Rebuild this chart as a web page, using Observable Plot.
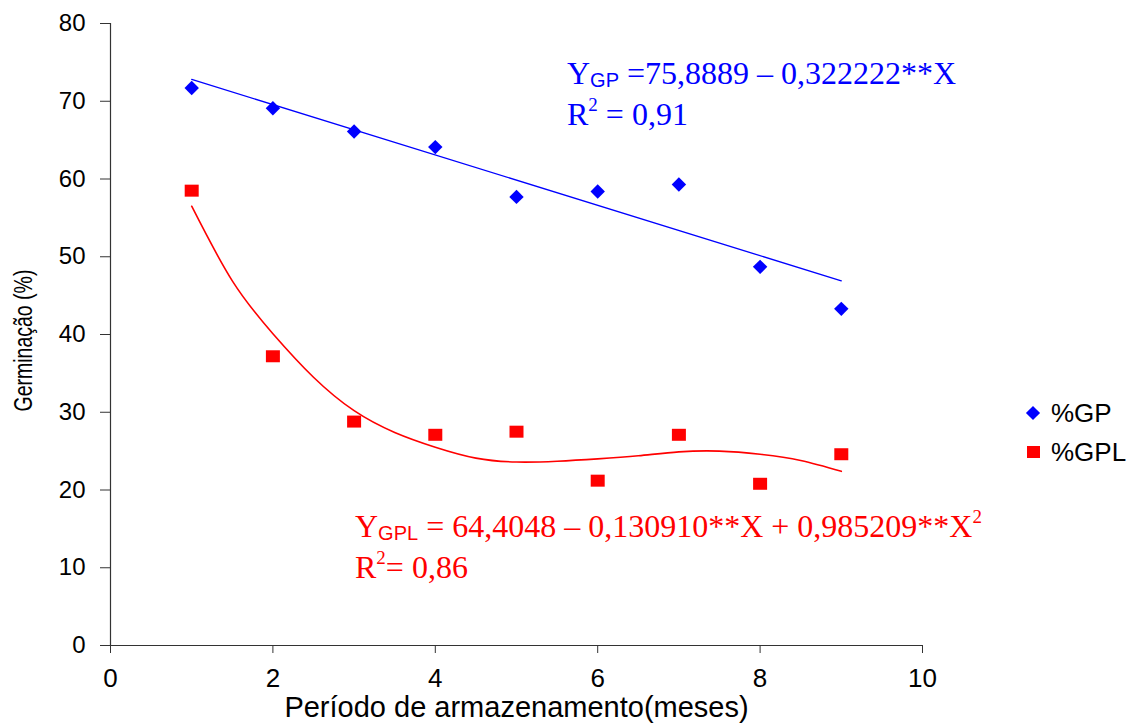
<!DOCTYPE html>
<html><head><meta charset="utf-8">
<script src="https://cdn.jsdelivr.net/npm/d3@7"></script>
<script src="https://cdn.jsdelivr.net/npm/@observablehq/plot@0.6"></script>
<style>
body{margin:0;background:#fff;}
#wrap{position:relative;width:1138px;height:728px;overflow:hidden;}
.eq{position:absolute;font-family:"Liberation Serif","Times New Roman",serif;font-size:32px;line-height:37px;white-space:nowrap;}
.eq .sub{font-family:"Liberation Sans",Arial,sans-serif;font-size:20px;position:relative;top:3px;}
.eq .sup{font-size:19px;position:relative;top:-14px;}
.leg{position:absolute;font-family:"Liberation Sans",Arial,sans-serif;font-size:26px;line-height:28px;white-space:nowrap;}
.sw{display:inline-block;position:absolute;}
</style></head><body><div id="wrap"></div>
<script>
// data
const months = [1, 2, 3, 4, 5, 6, 7, 8, 9];
const gp = [71.7, 69.1, 66.1, 64.1, 57.7, 58.4, 59.3, 48.7, 43.3];
const gpl = [58.5, 37.2, 28.8, 27.1, 27.5, 21.2, 27.1, 20.8, 24.6];
const gpTrendX = [1, 9];
const gpTrendY = [72.8, 46.9];
const gplTrendX = [1, 1.5, 2, 2.5, 3, 3.5, 4, 4.5, 5, 5.5, 6, 6.5, 7, 7.5, 8, 8.5, 9];
const gplTrendY = [56.5, 46.9, 40.1, 34.5, 30.2, 27.4, 25.5, 24.1, 23.6, 23.7, 24.0, 24.4, 24.9, 25.0, 24.6, 23.8, 22.4];
const xTicks = [0, 2, 4, 6, 8, 10];
const yTicks = [0, 10, 20, 30, 40, 50, 60, 70, 80];
const seriesNames = ["%GP", "%GPL"];
const seriesColors = ["#0000ff", "#ff0000"];
const xTitle = "Período de armazenamento(meses)";
const yTitle = "Germinação (%)";

const ptsGP = months.map((m, i) => ({x: m, y: gp[i]}));
const ptsGPL = months.map((m, i) => ({x: m, y: gpl[i]}));
const trGP = gpTrendX.map((x, i) => ({x, y: gpTrendY[i]}));
const trGPL = gplTrendX.map((x, i) => ({x, y: gplTrendY[i]}));

const rectSym = {draw(ctx) { ctx.rect(-7, -6, 14, 12); }};
const sans = "'Liberation Sans',Arial,sans-serif";

const chart = Plot.plot({
  width: 1138, height: 728,
  marginLeft: 110, marginRight: 216, marginTop: 23, marginBottom: 83,
  style: {fontFamily: sans, fontSize: "22px", background: "transparent", color: "#000"},
  x: {domain: [0, 10]},
  y: {domain: [0, 80]},
  marks: [
    Plot.ruleX([0], {stroke: "#333", strokeWidth: 1.2}),
    Plot.ruleY([0], {stroke: "#333", strokeWidth: 1.2}),
    Plot.axisY({ticks: yTicks, tickSize: 10, tickPadding: 15, fontSize: 24, label: null, stroke: "#333"}),
    Plot.axisX({ticks: xTicks, tickSize: 8, tickPadding: 15, fontSize: 26, label: null, stroke: "#333"}),
    Plot.line(trGP, {x: "x", y: "y", stroke: seriesColors[0], strokeWidth: 1.3}),
    Plot.line(trGPL, {x: "x", y: "y", stroke: seriesColors[1], strokeWidth: 1.6, curve: "natural"}),
    Plot.dot(ptsGP, {x: "x", y: "y", symbol: "diamond2", r: 6.5, fill: seriesColors[0], stroke: "none"}),
    Plot.dot(ptsGPL, {x: "x", y: "y", symbol: rectSym, fill: seriesColors[1], stroke: "none"}),
    Plot.text([yTitle], {frameAnchor: "left", textAnchor: "middle", dx: -87, dy: 6, rotate: -90, fontSize: 25, className: "ytitle"}),
    Plot.text([xTitle], {frameAnchor: "bottom", dy: 71, fontSize: 29})
  ]
});
d3.select(chart).selectAll('.ytitle text').attr("transform", function() {
  return (this.getAttribute("transform") || "") + " scale(0.78,1)";
});
const wrap = document.getElementById("wrap");
wrap.appendChild(chart);

function addDiv(cls, html, left, top, color) {
  const d = document.createElement("div");
  d.className = cls; d.innerHTML = html;
  d.style.left = left + "px"; d.style.top = top + "px";
  if (color) d.style.color = color;
  wrap.appendChild(d);
  return d;
}
addDiv("eq", 'Y<span class="sub">GP</span> =75,8889 – 0,322222**X<br>R<span class="sup">2</span> = 0,91', 567, 55, seriesColors[0]);
addDiv("eq", 'Y<span class="sub">GPL</span> = 64,4048 – 0,130910**X + 0,985209**X<span class="sup">2</span><br>R<span class="sup">2</span>= 0,86', 355, 508, seriesColors[1]);

// legend
addDiv("leg", seriesNames[0], 1051, 399, "#000");
addDiv("leg", seriesNames[1], 1051, 438, "#000");
const s1 = document.createElement("div"); s1.className = "sw";
Object.assign(s1.style, {left: "1028px", top: "408px", width: "10px", height: "10px", background: seriesColors[0], transform: "rotate(45deg)"});
const s2 = document.createElement("div"); s2.className = "sw";
Object.assign(s2.style, {left: "1027px", top: "446px", width: "13px", height: "12px", background: seriesColors[1]});
wrap.appendChild(s1); wrap.appendChild(s2);
</script></body></html>
